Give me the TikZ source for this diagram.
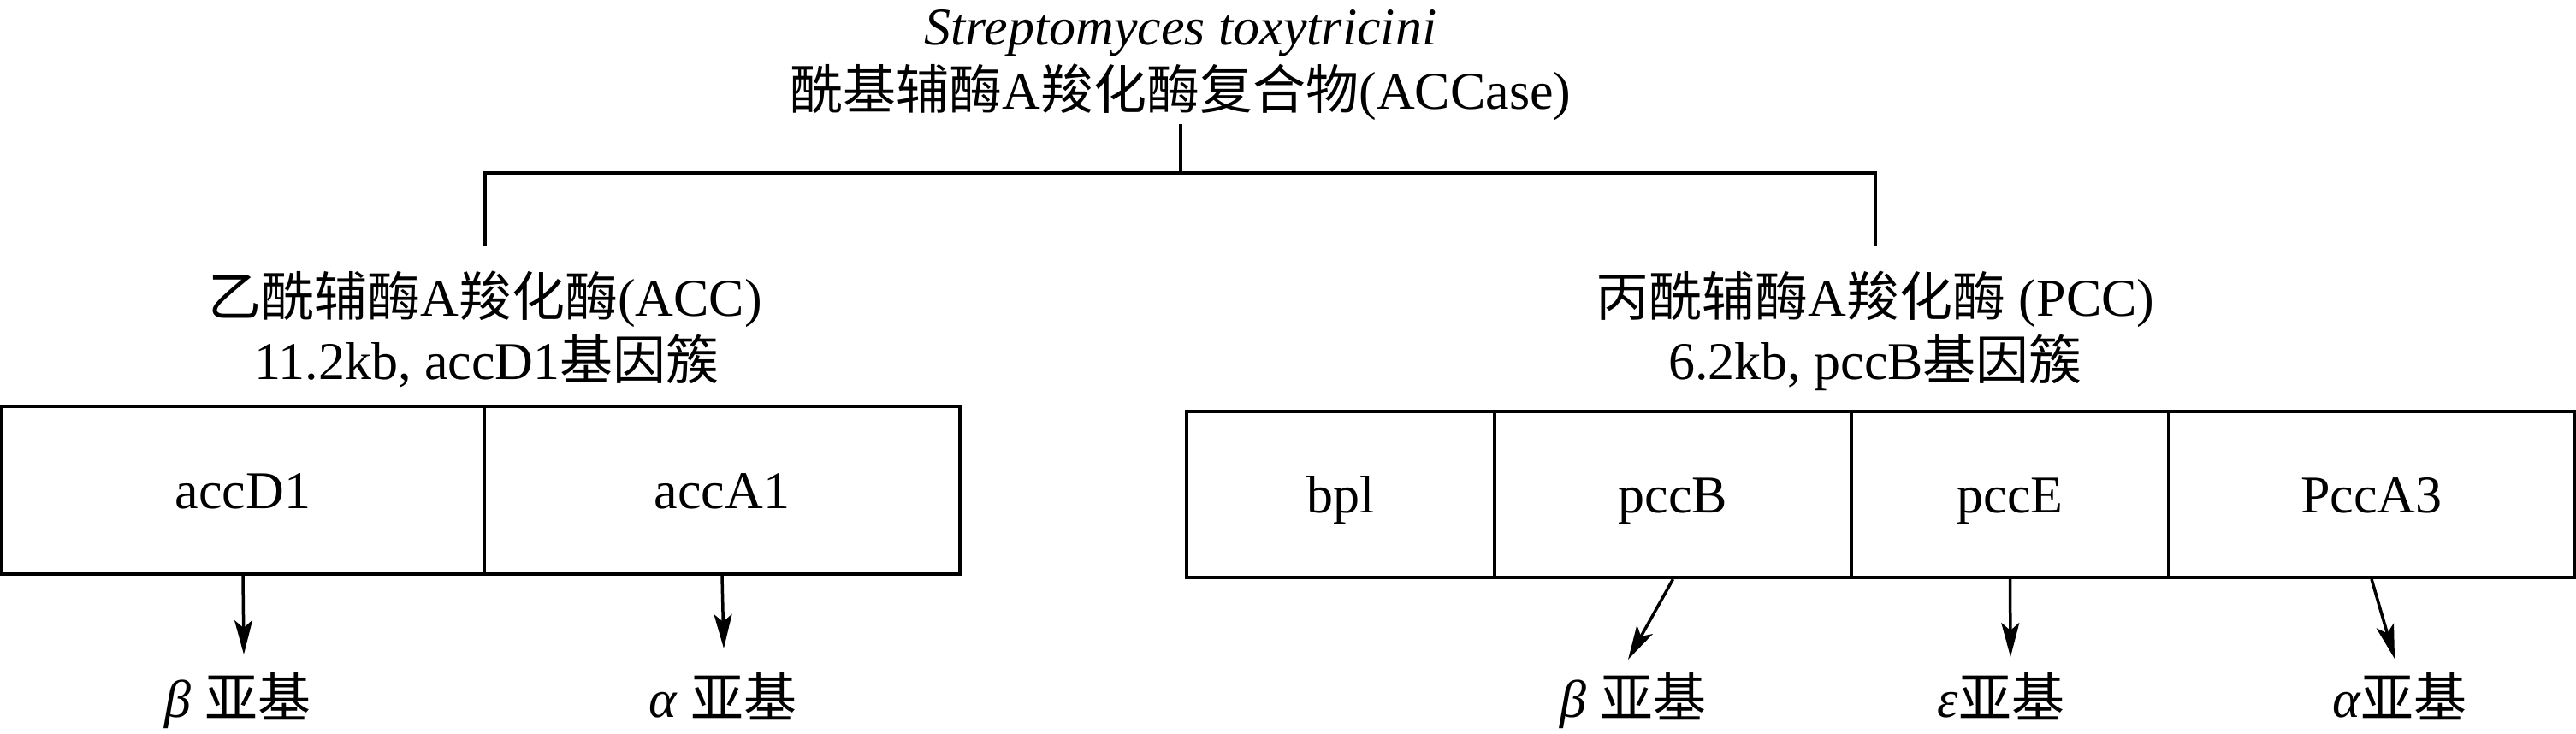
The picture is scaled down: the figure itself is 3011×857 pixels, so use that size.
\documentclass[tikz,border=0pt]{standalone}
\usepackage{fontspec}
\setmainfont{Liberation Serif}
\newfontfamily\cjk{Noto Sans CJK SC}
\usetikzlibrary{arrows.meta}
\newcommand\zh[1]{{\cjk #1}}
\begin{document}
\begin{tikzpicture}[x=1pt,y=-1pt,
  ln/.style={line width=4pt, line join=miter},
  txt/.style={inner sep=0pt, font=\fontsize{62}{74}\selectfont},
  cell/.style={draw, line width=4pt, inner sep=0pt, font=\fontsize{62}{74}\selectfont, text height=42pt, text depth=0pt},
  arr/.style={line width=3.5pt, -{Stealth[length=40pt,width=21pt,inset=9pt]}},
]
\useasboundingbox (0,0) rectangle (3011,857);
% titles
\node[txt, anchor=base, font=\fontsize{62}{74}\selectfont\itshape] (t1) at (1380,52) {Streptomyces toxytricini};
\node[txt, anchor=base] (t2) at (1380,127) {\zh{酰基辅酶}A\zh{羧化酶复合物}(ACCase)};
\node[txt, anchor=base] (l1) at (567,369) {\zh{乙酰辅酶}A\zh{羧化酶}(ACC)};
\node[txt, anchor=base] (l2) at (569,443) {11.2kb, accD1\zh{基因簇}};
\node[txt, anchor=base] (r1) at (2192,369) {\zh{丙酰辅酶}A\zh{羧化酶} (PCC)};
\node[txt, anchor=base] (r2) at (2192,443) {6.2kb, pccB\zh{基因簇}};
% gene cells
\node[cell, minimum width=564pt, minimum height=196pt] (c1) at (284,573) {accD1};
\node[cell, minimum width=556pt, minimum height=196pt] (c2) at (844,573) {accA1};
\node[cell, minimum width=360pt, minimum height=194pt] (d1) at (1567,578) {bpl};
\node[cell, minimum width=417pt, minimum height=194pt] (d2) at (1955.5,578) {pccB};
\node[cell, minimum width=371pt, minimum height=194pt] (d3) at (2349.5,578) {pccE};
\node[cell, minimum width=474pt, minimum height=194pt] (d4) at (2772,578) {PccA3};
% subunit labels
\node[txt, anchor=base] (b1) at (278,838) {{\itshape β} \zh{亚基}};
\node[txt, anchor=base] (b2) at (845,838) {{\itshape α} \zh{亚基}};
\node[txt, anchor=base] (e1) at (1909,838) {{\itshape β} \zh{亚基}};
\node[txt, anchor=base] (e2) at (2339,838) {{\itshape ε}\zh{亚基}};
\node[txt, anchor=base] (e3) at (2805,838) {{\itshape α}\zh{亚基}};
% tree connectors
\path ([yshift=-75pt]t2.base) coordinate (j);
\draw[ln] ([yshift=-18pt]t2.base) -- (j);
\draw[ln] ([yshift=81pt]l1.base) -- (l1.base |- j) -- (r1.base |- j) -- ([yshift=81pt]r1.base);
% arrows
\draw[arr] (c1.south) -- ([xshift=7pt,yshift=73pt]b1.base);
\draw[arr] (c2.south) -- ([xshift=1pt,yshift=80pt]b2.base);
\draw[arr] (d2.south) -- ([xshift=-6pt,yshift=67pt]e1.base);
\draw[arr] (d3.south) -- ([xshift=11pt,yshift=70pt]e2.base);
\draw[arr] (d4.south) -- ([xshift=-6pt,yshift=68pt]e3.base);
\end{tikzpicture}
\end{document}
